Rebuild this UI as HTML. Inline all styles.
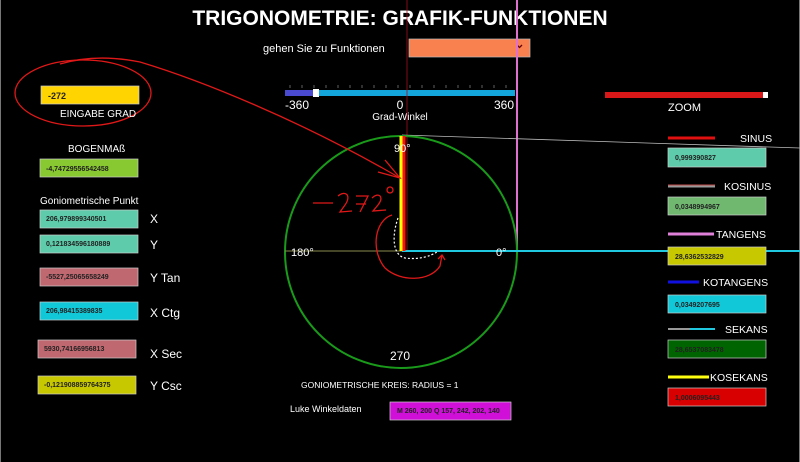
<!DOCTYPE html>
<html><head><meta charset="utf-8"><style>
html,body{margin:0;padding:0;background:#000;}
svg{display:block;font-family:"Liberation Sans",sans-serif;}
.v{font-size:7px;font-weight:bold;fill:#222;}
.w{fill:#fff;}
</style></head><body>
<svg width="800" height="462" viewBox="0 0 800 462">
<rect width="800" height="462" fill="#000"/>
<line x1="0.5" y1="0" x2="0.5" y2="462" stroke="#777"/>
<line x1="799.5" y1="0" x2="799.5" y2="462" stroke="#777"/>
<!-- title -->
<text x="400" y="25" text-anchor="middle" class="w" font-size="21" font-weight="bold">TRIGONOMETRIE: GRAFIK-FUNKTIONEN</text>
<text x="263" y="52" class="w" font-size="11">gehen Sie zu Funktionen</text>
<rect x="409" y="39" width="121" height="18" fill="#f9804f" stroke="#bbb" stroke-width="0.7"/>
<path d="M517 45 l2.5 2.5 l2.5 -2.5" stroke="#600" stroke-width="1.3" fill="none"/>
<!-- slider -->
<g stroke="#888" stroke-width="0.7">
<line x1="290" y1="85" x2="290" y2="88"/><line x1="302" y1="85" x2="302" y2="88"/><line x1="314" y1="85" x2="314" y2="88"/><line x1="326" y1="85" x2="326" y2="88"/><line x1="338" y1="85" x2="338" y2="88"/><line x1="350" y1="85" x2="350" y2="88"/><line x1="362" y1="85" x2="362" y2="88"/><line x1="374" y1="85" x2="374" y2="88"/><line x1="386" y1="85" x2="386" y2="88"/><line x1="398" y1="85" x2="398" y2="88"/><line x1="410" y1="85" x2="410" y2="88"/><line x1="422" y1="85" x2="422" y2="88"/><line x1="434" y1="85" x2="434" y2="88"/><line x1="446" y1="85" x2="446" y2="88"/><line x1="458" y1="85" x2="458" y2="88"/><line x1="470" y1="85" x2="470" y2="88"/><line x1="482" y1="85" x2="482" y2="88"/><line x1="494" y1="85" x2="494" y2="88"/><line x1="506" y1="85" x2="506" y2="88"/>
</g>
<rect x="285" y="90" width="230" height="6" fill="#13a6dc"/>
<rect x="285" y="90" width="28" height="6" fill="#4a4ad0"/>
<rect x="313" y="89" width="6" height="8" fill="#fff"/>
<text x="285" y="109" class="w" font-size="12">-360</text>
<text x="400" y="109" class="w" font-size="12" text-anchor="middle">0</text>
<text x="494" y="109" class="w" font-size="12">360</text>
<text x="400" y="120" class="w" font-size="10" text-anchor="middle">Grad-Winkel</text>
<!-- zoom -->
<rect x="605" y="92" width="158" height="6" fill="#d81818"/>
<rect x="763" y="92" width="5" height="6" fill="#fff"/>
<text x="668" y="111" class="w" font-size="11">ZOOM</text>
<!-- lines through page -->
<line x1="407" y1="0" x2="407" y2="250" stroke="#a01020" stroke-width="0.8"/>
<line x1="517" y1="0" x2="517" y2="252" stroke="#e070d0" stroke-width="2"/>
<line x1="402" y1="135" x2="800" y2="148" stroke="#bbb" stroke-width="0.8"/>
<!-- circle -->
<circle cx="401" cy="252" r="116" fill="none" stroke="#1a9a1a" stroke-width="2"/>
<line x1="285" y1="251" x2="402" y2="251" stroke="#8a8a50" stroke-width="1"/>
<line x1="402" y1="251" x2="800" y2="251" stroke="#20c8e0" stroke-width="2"/>
<line x1="401" y1="136" x2="401" y2="251" stroke="#ffff00" stroke-width="3"/>
<line x1="404" y1="136" x2="404" y2="251" stroke="#ff1010" stroke-width="3"/>
<text x="394" y="152" class="w" font-size="11">90°</text>
<text x="291" y="256" class="w" font-size="11">180°</text>
<text x="496" y="256" class="w" font-size="11">0°</text>
<text x="400" y="360" class="w" font-size="12" text-anchor="middle">270</text>
<path d="M398 218 C392 235 392 255 405 258 C420 260 430 256 437 252" stroke="#fff" stroke-width="1.2" stroke-dasharray="2,2" fill="none"/>
<!-- handwriting -->
<g stroke="#e01818" stroke-width="1.3" fill="none">
<ellipse cx="83" cy="93" rx="68" ry="33"/>
<path d="M60 64 C90 55 120 58 140 62 C200 80 300 120 400 178"/>
<path d="M385 160 L400 178 L378 172"/>
<path d="M313 203 L333 203"/>
<path d="M338 196 C345 190 352 195 345 205 L340 212 L352 211"/>
<path d="M356 196 L368 196 L360 212 M356 204 L366 204"/>
<path d="M372 198 C378 192 385 196 378 205 L373 211 L386 210"/>
<circle cx="390" cy="190" r="3"/>
<path d="M392 215 C375 220 370 250 385 268 C400 282 430 282 440 266 L442 255"/>
<path d="M438 259 L442 255 L445 260"/>
</g>
<!-- left panel -->
<rect x="41" y="86" width="98" height="18" fill="#ffd400" stroke="#ccc" stroke-width="0.7"/>
<text x="48" y="99" font-size="9" font-weight="bold" fill="#222">-272</text>
<text x="60" y="117" class="w" font-size="10">EINGABE GRAD</text>
<text x="68" y="152" class="w" font-size="10">BOGENMAß</text>
<rect x="40" y="159" width="98" height="18" fill="#88c830" stroke="#ccc" stroke-width="0.7"/>
<text x="46" y="171" class="v">-4,74729556542458</text>
<text x="40" y="204" class="w" font-size="10">Goniometrische Punkt</text>
<rect x="40" y="210" width="98" height="18" fill="#5ecbaa" stroke="#ccc" stroke-width="0.7"/>
<text x="46" y="221" class="v">206,979899340501</text>
<text x="150" y="223" class="w" font-size="12">X</text>
<rect x="40" y="235" width="98" height="18" fill="#5ecbaa" stroke="#ccc" stroke-width="0.7"/>
<text x="46" y="246" class="v">0,121834596180889</text>
<text x="150" y="249" class="w" font-size="12">Y</text>
<rect x="40" y="268" width="98" height="18" fill="#c06870" stroke="#ccc" stroke-width="0.7"/>
<text x="46" y="279" class="v">-5527,25065658249</text>
<text x="150" y="282" class="w" font-size="12">Y Tan</text>
<rect x="40" y="302" width="98" height="18" fill="#10c8d8" stroke="#ccc" stroke-width="0.7"/>
<text x="46" y="313" class="v">206,98415389835</text>
<text x="150" y="317" class="w" font-size="12">X Ctg</text>
<rect x="38" y="340" width="98" height="18" fill="#c06870" stroke="#ccc" stroke-width="0.7"/>
<text x="44" y="351" class="v">5930,74166956813</text>
<text x="150" y="358" class="w" font-size="12">X Sec</text>
<rect x="38" y="376" width="98" height="18" fill="#c8c800" stroke="#ccc" stroke-width="0.7"/>
<text x="44" y="387" class="v">-0,121908859764375</text>
<text x="150" y="390" class="w" font-size="12">Y Csc</text>
<!-- right legend -->
<line x1="668" y1="138" x2="715" y2="138" stroke="#e01010" stroke-width="3"/>
<text x="740" y="142" class="w" font-size="10.5">SINUS</text>
<rect x="668" y="148" width="98" height="19" fill="#5ecbaa" stroke="#ccc" stroke-width="0.7"/>
<text x="675" y="160" class="v">0,999390827</text>
<line x1="668" y1="186" x2="715" y2="186" stroke="#999" stroke-width="3"/>
<line x1="668" y1="185" x2="715" y2="185" stroke="#c33" stroke-width="0.8"/>
<text x="724" y="190" class="w" font-size="10.5">KOSINUS</text>
<rect x="668" y="197" width="98" height="18" fill="#70b870" stroke="#ccc" stroke-width="0.7"/>
<text x="675" y="209" class="v">0,0348994967</text>
<line x1="668" y1="234" x2="714" y2="234" stroke="#e080d8" stroke-width="3"/>
<text x="716" y="238" class="w" font-size="10.5">TANGENS</text>
<rect x="668" y="247" width="98" height="18" fill="#c8c800" stroke="#ccc" stroke-width="0.7"/>
<text x="675" y="259" class="v">28,6362532829</text>
<line x1="668" y1="282" x2="699" y2="282" stroke="#1010e0" stroke-width="3"/>
<text x="703" y="286" class="w" font-size="10.5">KOTANGENS</text>
<rect x="668" y="295" width="98" height="18" fill="#10c8d8" stroke="#ccc" stroke-width="0.7"/>
<text x="675" y="307" class="v">0,0349207695</text>
<line x1="668" y1="329" x2="715" y2="329" stroke="#20c8e0" stroke-width="2"/>
<line x1="668" y1="329" x2="690" y2="329" stroke="#999" stroke-width="2"/>
<text x="725" y="333" class="w" font-size="10.5">SEKANS</text>
<rect x="668" y="340" width="98" height="18" fill="#006400" stroke="#ccc" stroke-width="0.7"/>
<text x="675" y="352" class="v">28,6537083478</text>
<line x1="668" y1="377" x2="709" y2="377" stroke="#ffff10" stroke-width="3"/>
<text x="710" y="381" class="w" font-size="10.5">KOSEKANS</text>
<rect x="668" y="388" width="98" height="18" fill="#d80000" stroke="#ccc" stroke-width="0.7"/>
<text x="675" y="400" class="v" fill="#f88">1,0006095443</text>
<!-- bottom -->
<text x="301" y="388" class="w" font-size="8.5">GONIOMETRISCHE KREIS: RADIUS = 1</text>
<text x="290" y="412" class="w" font-size="9">Luke Winkeldaten</text>
<rect x="390" y="402" width="121" height="18" fill="#d010d8" stroke="#ccc" stroke-width="0.7"/>
<text x="397" y="413" class="v" fill="#400">M 260, 200 Q 157, 242, 202, 140</text>
</svg>
</body></html>
